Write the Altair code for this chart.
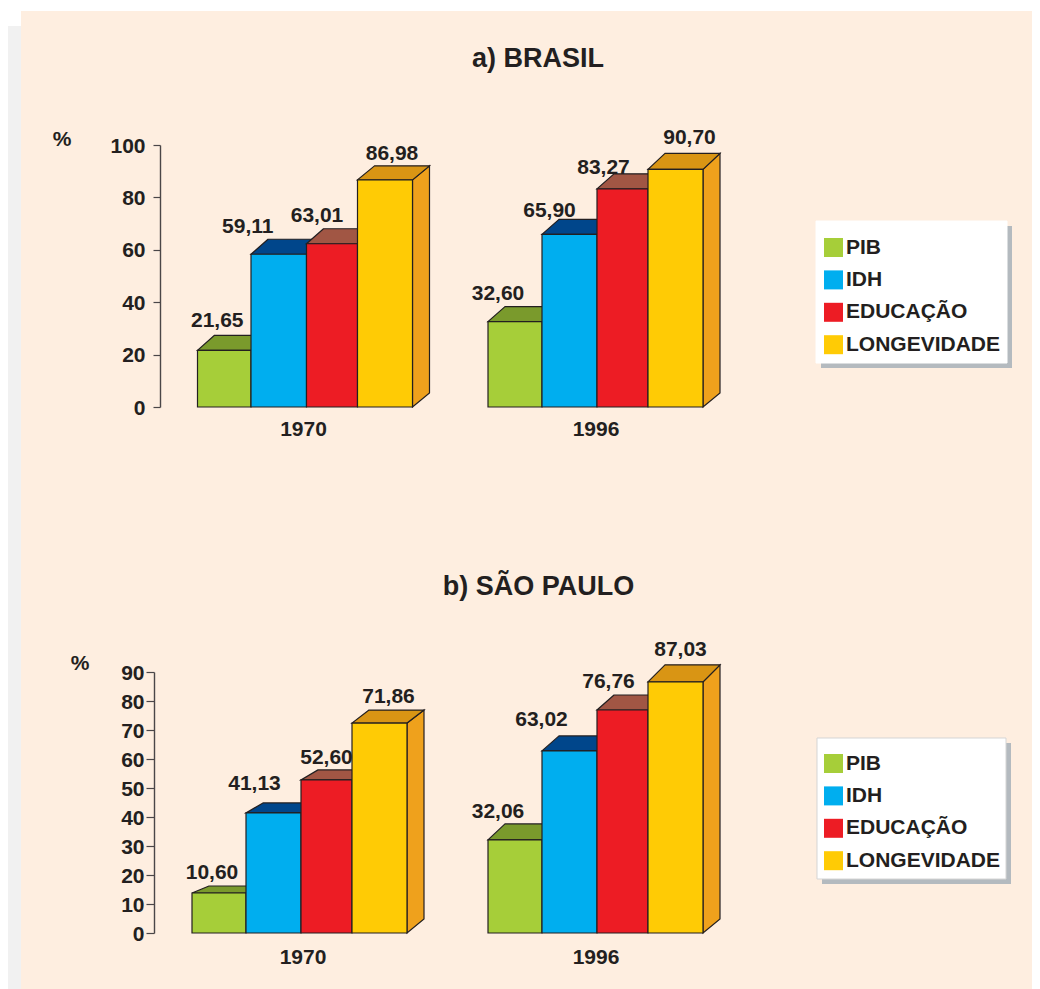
import altair as alt
import pandas as pd

# ---- values ----
series = ["PIB", "IDH", "EDUCAÇÃO", "LONGEVIDADE"]
years = ["1970", "1996"]

brasil_labels = [["21,65", "59,11", "63,01", "86,98"], ["32,60", "65,90", "83,27", "90,70"]]
brasil_heights = [[21.65, 58.3, 62.3, 86.7], [32.6, 65.9, 83.27, 90.7]]
sp_labels = [["10,60", "41,13", "52,60", "71,86"], ["32,06", "63,02", "76,76", "87,03"]]
sp_heights = [[13.8, 41.4, 52.8, 72.4], [32.1, 62.8, 76.9, 86.6]]

brasil_ticks = [0, 20, 40, 60, 80, 100]
sp_ticks = [0, 10, 20, 30, 40, 50, 60, 70, 80, 90]

# ---- styles ----
front_colors = ["#A6CE39", "#00AEEF", "#ED1C24", "#FFCB05"]
top_colors = ["#7A9A2C", "#00468B", "#A15644", "#D99514"]
side_color = "#EFA11C"
peach = "#FEEEE0"
grey = "#F1F1F1"
ink = "#231F20"
font = "Liberation Sans"

# ---- layout: measured in the 1040x989 picture, converted to view pixels ----
VIEW_W = 1024
H_A, H_B = 490, 491


def lx(x):
    return x - 8


def ly(y, top):
    return y - 8 - top


depth_x = 17
brasil_layout = dict(
    edges=[[197.5, 251, 306.5, 357.5, 412.5], [488, 542, 597, 648, 703]],
    depth_y=[[15, 15, 15, 14], [15, 15, 15, 16]],
    label_dx=[[-7, -31, -15, 7], [-17, -20, -19, 14]],
    label_dy=[[31, 29, 30, 28], [30, 25, 23, 33]],
    year_x=[303.5, 596], year_y=429,
)
sp_layout = dict(
    edges=[[192, 246, 301, 352, 407], [488, 542, 597, 648, 703]],
    depth_y=[[7, 10, 10, 13], [16, 15, 15, 17]],
    label_dx=[[-7, -19, 0, 9], [-17, -28, -14, 5]],
    label_dy=[[22, 31, 24, 28], [30, 33, 30, 34]],
    year_x=[303, 596], year_y=957,
)


def panel(title, labels, heights, layout, ticks, dom_max, y0y1, top, view_h, axis_x, tick_size,
          label_pad, title_xy, pct_xy, box, box_stroke, legend_xy, rect_top, strip_top):
    y_range = [ly(y0y1[0], top), ly(y0y1[1], top)]
    px = (y_range[0] - y_range[1]) / dom_max
    fronts, tops, sides, texts = [], [], [], []
    for g, year in enumerate(years):
        edges = [lx(e) for e in layout["edges"][g]]
        for i, s in enumerate(series):
            h = heights[g][i]
            x0, x1 = edges[i], edges[i + 1]
            dy = layout["depth_y"][g][i] / px
            key = f"{year}-{s}"
            fronts.append(dict(series=s, x=x0, x2=x1, y=h, y2=0))
            tops.append(dict(bar=key, fill=top_colors[i], y=h, x=x0, x2=x1))
            tops.append(dict(bar=key, fill=top_colors[i], y=h + dy, x=x0 + depth_x, x2=x1 + depth_x))
            texts.append(dict(label=labels[g][i],
                              x=(x0 + x1) / 2 + layout["label_dx"][g][i],
                              y=h + layout["label_dy"][g][i] / px))
        x1 = edges[-1]
        h = heights[g][-1]
        dy = layout["depth_y"][g][-1] / px
        side_dy = 14 / px
        sides.append(dict(bar=year, x=x1, y=h, y2=0))
        sides.append(dict(bar=year, x=x1 + depth_x, y=h + dy, y2=side_dy))

    xs = alt.Scale(domain=[0, VIEW_W], range=[0, VIEW_W])
    ys = alt.Scale(domain=[0, dom_max], range=y_range, nice=False, zero=False)
    X = alt.X("x:Q", scale=xs, axis=None)
    y_axis = alt.Axis(
        values=ticks, orient="left", offset=-lx(axis_x), zindex=1, grid=False, title=None,
        tickSize=tick_size, tickColor="#4A4648", tickWidth=1.2,
        domainColor="#4A4648", domainWidth=1.4,
        labelFont=font, labelFontWeight="bold", labelFontSize=21, labelColor=ink,
        labelPadding=label_pad, labelBaseline="middle", labelOffset=1)
    Y = alt.Y("y:Q", scale=ys, title=None, axis=y_axis)
    one = pd.DataFrame({"a": [0]})

    def rect(x0, x1, y0, y1, color, **kw):
        return alt.Chart(one).mark_rect(color=color, **kw).encode(
            x=alt.value(x0), x2=alt.value(x1), y=alt.value(y0), y2=alt.value(y1))

    bx0, bx1, by0, by1 = box
    bl, br, bt, bb = lx(bx0), lx(bx1), ly(by0, top), ly(by1, top)
    background = [
        rect(0, lx(21), max(ly(strip_top, top), 0), view_h, grey),
        rect(lx(21), VIEW_W, max(ly(rect_top, top), 0), view_h, peach),
        rect(bl + 5, br + 5, bt + 5, bb + 5, "#B4BABF"),
        rect(bl, br, bt, bb, "white", stroke=box_stroke, strokeWidth=1),
    ]

    front_layer = alt.Chart(pd.DataFrame(fronts)).mark_rect(stroke=ink, strokeWidth=1.2).encode(
        x=X, x2="x2:Q", y=Y, y2="y2:Q",
        color=alt.Color("series:N", scale=alt.Scale(domain=series, range=front_colors),
                        legend=alt.Legend(
                            orient="none", legendX=lx(legend_xy[0]), legendY=ly(legend_xy[1], top), title=None,
                            padding=0, symbolType="square", symbolSize=361, symbolStrokeWidth=0,
                            symbolOpacity=1, labelFont=font, labelFontWeight="bold", labelFontSize=21,
                            labelColor=ink, labelOffset=2, rowPadding=10.4)),
    )
    top_layer = alt.Chart(pd.DataFrame(tops)).mark_area(
        orient="horizontal", stroke=ink, strokeWidth=1.2).encode(
        y=Y, x=X, x2="x2:Q",
        color=alt.Color("fill:N", scale=None), detail="bar:N",
    )
    side_layer = alt.Chart(pd.DataFrame(sides)).mark_area(
        orient="vertical", color=side_color, stroke=ink, strokeWidth=1.2).encode(
        x=X, y=Y, y2="y2:Q", detail="bar:N",
    )
    text_style = dict(font=font, fontWeight="bold", color=ink, baseline="middle", align="center")
    value_layer = alt.Chart(pd.DataFrame(texts)).mark_text(fontSize=21, dy=2, **text_style).encode(
        x=X, y=Y, text="label:N")
    year_layer = alt.Chart(pd.DataFrame({"year": years, "x": [lx(v) for v in layout["year_x"]]})).mark_text(
        fontSize=21, dy=1, **text_style).encode(
        x=X, y=alt.value(ly(layout["year_y"], top)), text="year:N")
    title_layer = alt.Chart(pd.DataFrame({"t": [title]})).mark_text(fontSize=27, dy=1, **text_style).encode(
        x=alt.value(lx(title_xy[0])), y=alt.value(ly(title_xy[1], top)), text="t:N")
    pct_layer = alt.Chart(pd.DataFrame({"t": ["%"]})).mark_text(fontSize=21, dy=1, **text_style).encode(
        x=alt.value(lx(pct_xy[0])), y=alt.value(ly(pct_xy[1], top)), text="t:N")

    return alt.layer(*background, side_layer, top_layer, front_layer, value_layer, year_layer,
                     title_layer, pct_layer).resolve_scale(color="independent").properties(
        width=VIEW_W, height=view_h)


a = panel("a) BRASIL", brasil_labels, brasil_heights, brasil_layout, brasil_ticks, 100, (407, 145),
          0, H_A, 160, 7, 8, (538, 58), (62, 139), (816, 1007, 221, 363), "white", (823, 237), 11, 26)
b = panel("b) SÃO PAULO", sp_labels, sp_heights, sp_layout, sp_ticks, 90, (933, 672),
          H_A, H_B, 154, 8, 2, (538.5, 586), (80, 663), (817, 1006, 738, 879), "#D5D5D5", (823, 753), 0, 0)

chart = alt.vconcat(a, b, spacing=0).resolve_scale(color="independent").properties(
    padding=0).configure_view(stroke=None)

chart.save("out.html", embed_options={"renderer": "svg", "actions": False})
